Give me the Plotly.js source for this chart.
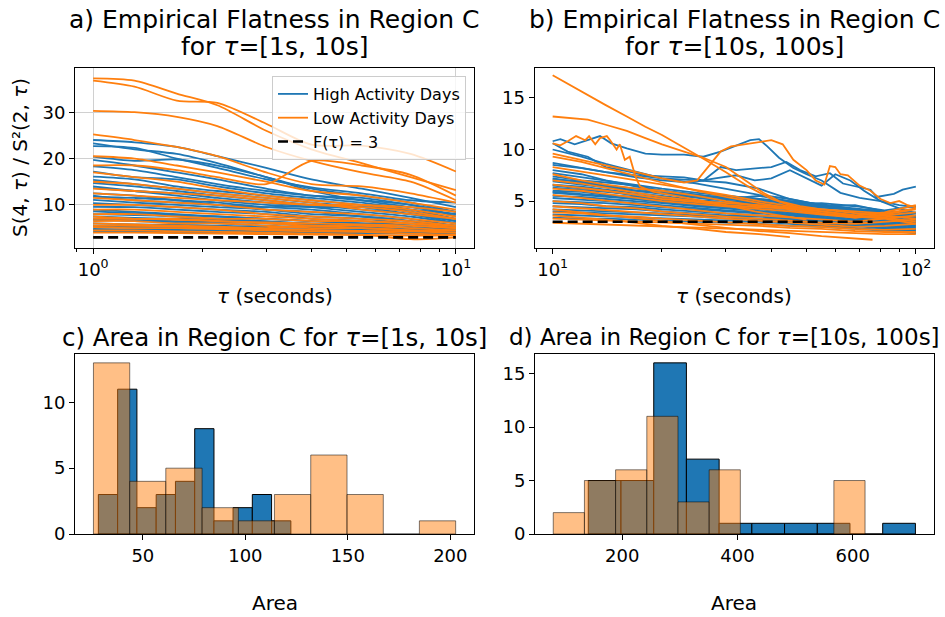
<!DOCTYPE html>
<html>
<head>
<meta charset="utf-8">
<script src="https://cdn.plot.ly/plotly-3.0.1.min.js"></script>
<style>html,body{margin:0;padding:0;background:#fff;}#chart{width:945px;height:617px;}</style>
</head>
<body>
<div id="chart"></div>
<script>
// ---------------- DATA ----------------
// Panel a: flatness vs tau in [1s, 10s]
const tauA = [1, 1.3, 1.7, 2.2, 3, 4, 5.5, 7.5, 10];
const highA = [
  [24.0, 23.5, 22.5, 20.5, 18.0, 15.5, 13.5, 11.5, 9.5],
  [23.3, 22.0, 21.0, 19.0, 16.0, 13.5, 12.0, 10.5, 8.5],
  [22.7, 22.3, 20.0, 18.0, 15.5, 13.8, 12.5, 11.0, 10.5],
  [20.4, 19.5, 19.8, 18.5, 16.0, 13.0, 11.0, 9.5, 8.0],
  [19.7, 18.5, 17.0, 15.5, 13.5, 12.0, 11.5, 10.0, 8.5],
  [18.3, 17.5, 16.0, 14.5, 13.0, 12.0, 11.0, 10.0, 7.5],
  [17.2, 16.0, 15.5, 14.0, 12.5, 11.5, 10.5, 9.0, 7.0],
  [16.1, 15.5, 14.0, 13.0, 12.0, 11.0, 10.0, 8.5, 6.5],
  [15.4, 14.5, 13.5, 12.5, 11.5, 10.5, 9.5, 8.0, 6.5],
  [14.7, 14.0, 13.0, 12.0, 11.0, 10.0, 9.0, 8.0, 6.0],
  [14.0, 13.0, 12.0, 11.0, 10.0, 9.5, 9.5, 9.0, 8.0],
  [13.6, 13.0, 12.5, 11.5, 10.5, 9.5, 8.5, 7.5, 6.0],
  [12.5, 12.0, 11.0, 10.5, 9.5, 9.0, 8.0, 7.0, 5.5],
  [12.0, 11.0, 10.5, 10.0, 9.5, 9.8, 9.5, 8.5, 7.0],
  [11.8, 11.5, 11.0, 10.0, 9.0, 8.5, 7.5, 6.5, 5.5],
  [11.1, 10.5, 10.0, 9.5, 9.0, 8.0, 7.5, 6.5, 5.0],
  [10.4, 10.0, 9.5, 9.0, 8.5, 7.5, 7.0, 6.0, 5.0],
  [9.6, 9.5, 9.0, 8.5, 8.0, 7.0, 6.5, 5.5, 5.0],
  [9.0, 8.5, 8.0, 7.5, 7.0, 6.5, 6.0, 5.5, 4.5],
  [8.6, 8.2, 7.8, 7.5, 7.0, 6.5, 6.0, 5.5, 5.0],
  [8.0, 7.8, 7.5, 7.0, 6.5, 6.0, 5.5, 5.0, 4.5],
  [7.5, 7.2, 7.0, 6.8, 6.3, 5.8, 5.5, 5.0, 4.5],
  [7.0, 6.8, 6.5, 6.3, 6.0, 5.5, 5.2, 4.8, 4.3],
  [6.8, 6.5, 6.3, 6.0, 5.5, 5.2, 5.0, 4.6, 4.2],
  [6.0, 5.8, 5.7, 5.5, 5.2, 5.0, 4.7, 4.5, 4.2],
  [5.5, 5.4, 5.2, 5.0, 4.8, 4.6, 4.5, 4.3, 4.0],
  [5.3, 5.2, 5.0, 4.8, 4.7, 4.5, 4.3, 4.2, 4.0],
  [4.8, 4.7, 4.6, 4.5, 4.4, 4.3, 4.2, 4.1, 3.9],
  [4.6, 4.5, 4.4, 4.3, 4.2, 4.1, 4.0, 3.9, 3.8],
  [4.2, 4.2, 4.1, 4.0, 4.0, 3.9, 3.9, 3.8, 3.7]
];
const lowA = [
  [37.3, 36.8, 34.0, 31.5, 26.0, 22.0, 19.0, 16.0, 13.2],
  [36.8, 35.5, 32.5, 32.0, 27.5, 23.0, 22.8, 21.0, 17.2],
  [30.3, 30.0, 29.0, 27.0, 22.5, 19.5, 17.0, 15.0, 11.0],
  [25.2, 24.0, 22.5, 20.5, 17.0, 14.5, 14.0, 12.5, 10.5],
  [20.5, 20.0, 18.5, 17.0, 15.0, 13.0, 12.0, 10.5, 9.0],
  [18.5, 18.5, 17.5, 16.0, 14.5, 19.5, 18.5, 16.5, 12.0],
  [17.0, 16.0, 15.0, 13.5, 12.0, 11.0, 10.0, 9.0, 7.5],
  [15.0, 14.5, 13.5, 12.5, 11.5, 10.5, 9.0, 8.0, 7.0],
  [13.5, 13.0, 12.5, 12.0, 11.0, 10.0, 10.0, 9.5, 8.5],
  [12.5, 12.0, 11.5, 11.0, 10.5, 10.0, 9.5, 8.5, 7.0],
  [11.5, 11.0, 10.5, 10.0, 9.0, 8.5, 8.0, 7.0, 6.0],
  [10.0, 10.0, 9.5, 9.0, 8.0, 7.5, 7.0, 6.5, 5.5],
  [9.0, 9.0, 8.5, 8.0, 7.5, 7.0, 6.5, 6.0, 5.5],
  [8.0, 8.0, 7.5, 7.0, 7.0, 6.5, 6.5, 6.0, 5.0],
  [7.5, 7.0, 7.0, 6.5, 6.0, 5.5, 5.5, 5.0, 4.5],
  [7.0, 7.0, 6.8, 6.5, 6.2, 6.0, 5.8, 5.5, 5.0],
  [6.5, 6.5, 6.0, 6.0, 5.5, 5.0, 5.0, 4.5, 4.5],
  [6.0, 5.8, 5.5, 5.3, 5.0, 5.5, 5.0, 4.5, 4.0],
  [5.5, 5.5, 5.3, 5.0, 4.8, 4.6, 4.4, 4.3, 4.0],
  [5.2, 5.0, 5.0, 4.8, 4.5, 4.3, 4.2, 3.8, 3.5],
  [4.5, 4.5, 4.3, 4.2, 4.0, 3.8, 3.6, 2.6, 3.0],
  [4.0, 4.0, 3.9, 3.8, 3.7, 3.6, 3.5, 3.4, 3.4]
];

// Panel b: flatness vs tau in [10s, 100s]
const tauB = [10, 12, 14, 17, 20, 25, 30, 37, 45, 55, 68, 82, 100];
const highB = [
  [10.0, 9.3, 8.6, 7.8, 7.2, 6.7, 6.2, 5.6, 5.2, 4.6, 4.1, 3.8, 3.4],
  [8.7, 8.2, 7.8, 7.5, 7.2, 7.0, 6.8, 6.2, 5.2, 4.6, 4.0, 3.8, 3.2],
  [8.0, 7.6, 7.0, 6.4, 6.0, 5.6, 5.3, 5.0, 4.9, 4.6, 4.3, 4.0, 3.6],
  [7.7, 7.3, 7.0, 6.6, 6.2, 5.8, 5.5, 5.2, 5.0, 4.7, 4.2, 3.9, 3.5],
  [7.4, 7.0, 6.8, 6.5, 6.0, 5.6, 5.2, 4.9, 4.6, 4.4, 4.1, 3.8, 3.4],
  [7.2, 6.8, 6.4, 6.0, 5.8, 5.4, 5.5, 5.2, 4.7, 4.8, 4.5, 4.1, 4.5],
  [7.1, 6.9, 6.5, 6.2, 5.8, 5.5, 5.0, 4.8, 4.5, 4.2, 3.9, 3.6, 3.3],
  [6.9, 6.6, 6.3, 6.0, 5.7, 5.3, 5.0, 4.7, 4.5, 4.1, 3.7, 3.5, 3.1],
  [6.6, 6.4, 6.1, 5.8, 5.5, 5.1, 4.8, 4.6, 4.3, 4.0, 3.6, 3.3, 3.0],
  [6.5, 6.2, 6.0, 5.5, 5.2, 5.0, 5.2, 5.5, 5.0, 4.5, 4.6, 4.0, 3.8],
  [6.3, 6.1, 5.9, 5.6, 5.3, 5.0, 4.7, 4.4, 4.2, 3.9, 3.5, 3.2, 2.9],
  [6.0, 5.9, 5.6, 5.4, 5.1, 4.8, 4.5, 4.3, 4.0, 3.7, 3.4, 3.1, 2.8],
  [5.9, 5.7, 5.5, 5.2, 5.0, 4.8, 4.9, 5.1, 4.8, 4.4, 4.2, 4.0, 3.9],
  [5.8, 5.6, 5.4, 5.2, 4.9, 4.6, 4.4, 4.2, 3.9, 3.6, 3.3, 3.0, 2.7],
  [5.5, 5.4, 5.2, 5.0, 4.8, 4.5, 4.3, 4.0, 3.8, 3.5, 3.2, 2.9, 2.6],
  [5.3, 5.1, 5.0, 4.8, 4.6, 4.3, 4.1, 3.9, 3.7, 3.4, 3.1, 2.8, 2.5],
  [5.0, 4.9, 4.8, 4.6, 4.4, 4.2, 4.0, 3.8, 3.6, 3.3, 3.0, 2.7, 2.4],
  [4.8, 4.7, 4.5, 4.4, 4.2, 4.0, 3.8, 3.6, 3.4, 3.2, 2.9, 2.6, 2.3],
  [4.5, 4.4, 4.3, 4.2, 4.0, 3.8, 3.6, 3.5, 3.3, 3.1, 2.8, 2.5, 2.2],
  [4.2, 4.1, 4.0, 3.9, 3.8, 3.6, 3.5, 3.3, 3.2, 3.0, 2.7, 2.4, 2.1],
  [4.0, 3.9, 3.8, 3.7, 3.6, 3.5, 3.3, 3.2, 3.0, 2.8, 2.6, 2.3, 2.0],
  [3.7, 3.6, 3.5, 3.4, 3.3, 3.2, 3.1, 3.0, 2.8, 2.6, 2.4, 2.2, 1.9],
  [3.4, 3.3, 3.3, 3.2, 3.1, 3.0, 2.9, 2.8, 2.6, 2.5, 2.3, 2.1, 1.9]
];
const highBWavyTau1 = [10, 10.5, 11.5, 12.5, 13.5, 14.5, 16, 18, 20, 23, 26, 29, 32, 35, 37, 39, 42, 46, 50, 55, 62, 70, 80, 90, 100];
const highBWavy1    = [10.8, 11.0, 10.5, 10.9, 11.3, 10.6, 10.1, 9.6, 9.5, 9.5, 9.3, 9.8, 10.4, 10.9, 11.0, 10.3, 9.2, 8.2, 7.6, 7.0, 5.8, 5.3, 5.0, 4.6, 4.4];
const highBWavyTau2 = [10, 11, 12.5, 14, 16, 18, 20, 23, 26, 29, 32, 35, 40, 44, 48, 53, 58, 63, 69, 75, 78, 87, 92, 100];
const highBWavy2    = [10.6, 9.8, 9.3, 8.3, 7.9, 7.5, 7.4, 7.3, 7.0, 8.3, 8.0, 8.1, 8.3, 8.8, 8.0, 7.4, 7.7, 6.7, 6.4, 6.1, 5.4, 5.7, 6.1, 6.4];
const highBWavyTau3 = [10, 12, 14, 17, 20, 24, 28, 32, 36, 40, 45, 50, 55, 60, 66, 72, 80, 90, 100];
const highBWavy3    = [8.5, 8.2, 7.8, 7.3, 7.0, 6.8, 7.2, 7.5, 7.0, 7.2, 8.0, 7.2, 6.5, 7.6, 7.0, 6.0, 5.0, 4.3, 3.8];

const lowB = [
  [9.3, 8.8, 8.2, 7.4, 6.8, 6.0, 5.4, 4.8, 4.3, 3.8, 3.4, 3.6, 3.9],
  [8.3, 7.9, 7.5, 7.0, 6.6, 6.0, 5.6, 5.0, 4.5, 4.0, 3.6, 3.4, 3.0],
  [7.6, 7.0, 6.6, 6.2, 6.0, 5.5, 5.0, 4.5, 4.2, 3.8, 3.5, 3.3, 2.8],
  [7.0, 6.7, 6.3, 5.8, 5.4, 5.0, 4.8, 4.6, 4.4, 4.2, 4.0, 3.8, 4.3],
  [6.6, 6.3, 6.0, 5.6, 5.2, 4.9, 4.6, 4.4, 4.3, 4.0, 3.6, 3.9, 4.6],
  [6.2, 6.0, 5.7, 5.3, 5.0, 4.7, 4.5, 4.2, 4.0, 3.7, 3.4, 3.7, 4.2],
  [5.6, 5.3, 5.0, 4.7, 4.4, 4.1, 3.8, 3.6, 3.4, 3.2, 3.0, 3.3, 3.6],
  [5.0, 4.8, 4.5, 4.3, 4.0, 3.7, 3.5, 3.3, 3.1, 2.9, 2.8, 3.0, 3.2],
  [4.5, 4.3, 4.1, 3.9, 3.7, 3.5, 3.3, 3.1, 2.9, 2.7, 2.5, 2.6, 2.8],
  [3.9, 3.8, 3.6, 3.5, 3.3, 3.1, 3.0, 2.8, 2.6, 2.5, 2.3, 2.2, 2.3],
  [3.3, 3.2, 3.1, 3.0, 2.9, 2.8, 2.7, 2.6, 2.4, 2.3, 2.1, 2.0, 2.0],
  [2.9, 2.8, 2.7, 2.6, 2.5, 2.4, 2.3, 2.2, 2.1, 2.0, 1.9, 1.8, 1.8]
];
const lowBWavyTau1 = [10, 10.7, 12, 14, 16, 18, 20, 23, 26, 30, 35, 40, 45, 50];
const lowBWavy1    = [17.2, 16.6, 15.6, 14.3, 13.2, 12.2, 11.4, 10.2, 9.1, 7.8, 6.3, 5.2, 4.6, 4.2];
const lowBWavyTau2 = [10, 11, 12.5, 14, 16, 18, 20, 23, 26, 30, 34, 38, 42, 48, 55, 65, 80, 100];
const lowBWavy2    = [13.2, 13.1, 12.9, 12.4, 11.8, 11.1, 10.5, 9.8, 9.2, 8.3, 7.0, 5.8, 5.0, 4.5, 4.2, 3.9, 3.6, 3.3];
const lowBWavyTau3 = [10, 10.5, 11, 11.6, 12.3, 12.6, 13.1, 13.5, 14.1, 14.4, 15, 15.3, 15.8, 16.3, 16.9, 17.4, 19, 22, 26, 30, 36, 42, 50];
const lowBWavy3    = [10.6, 10.4, 10.8, 11.3, 10.9, 11.3, 10.5, 11.1, 11.3, 10.9, 10.0, 10.5, 9.0, 9.3, 7.4, 6.4, 5.9, 5.5, 5.0, 4.6, 4.0, 3.6, 3.2];
const lowBWavyTau4 = [10, 12, 14, 17, 20, 23, 25, 27, 29, 31, 34, 37, 40, 43, 46, 50, 53, 56, 58, 60, 62, 65, 70, 75, 80, 85, 90, 95, 100];
const lowBWavy4    = [9.6, 9.0, 8.5, 7.8, 7.2, 6.8, 7.0, 8.5, 9.8, 10.3, 10.5, 10.7, 10.9, 10.5, 9.0, 8.0, 7.0, 6.6, 8.4, 8.3, 7.6, 7.5, 6.5, 6.0, 5.2, 4.8, 5.0, 4.6, 4.4];
const lowBWavyTau5 = [10, 12, 14, 17, 20, 25, 30, 37, 45];
const lowBWavy5    = [3.6, 3.4, 3.2, 2.9, 2.6, 2.3, 2.0, 1.8, 1.5];
const lowBWavyTau6 = [10, 12, 14, 17, 20, 25, 30, 37, 45, 55, 65, 76];
const lowBWavy6    = [4.2, 3.9, 3.6, 3.3, 3.0, 2.7, 2.4, 2.1, 1.9, 1.6, 1.4, 1.25];

// Reference level F(tau) = 3
const fLevel = 3;
const fTauA = [1, 10];
const fTauB = [10, 76];

// Panel c histogram (Area, tau in [1s, 10s])
const edgesHighC  = [28.3, 37.7, 47.1, 56.5, 65.9, 75.3, 84.7, 94.0, 103.4, 112.8, 122.2];
const countsHighC = [3, 11, 2, 3, 4, 8, 1, 2, 3, 1];
const edgesLowC   = [25.9, 43.6, 61.2, 78.9, 96.6, 114.2, 131.9, 149.6, 167.3, 184.9, 202.6];
const countsLowC  = [13, 4, 5, 2, 1, 3, 6, 3, 0, 1];

// Panel d histogram (Area, tau in [10s, 100s])
const edgesHighD  = [141.0, 197.8, 254.6, 311.3, 368.1, 424.9, 481.7, 538.5, 595.2, 652.0, 708.8];
const countsHighD = [5, 5, 16, 7, 1, 1, 1, 1, 0, 1];
const edgesLowD   = [80.2, 134.3, 188.4, 242.6, 296.7, 350.8, 404.9, 459.0, 513.2, 567.3, 621.4];
const countsLowD  = [2, 5, 6, 11, 3, 6, 0, 0, 0, 5];

// ---------------- BUILD ----------------
const BLUE = '#1f77b4', ORANGE = '#ff7f0e';
const FONT = 'DejaVu Sans, Verdana, sans-serif';
const traces = [];

function addLine(x, y, color, xa, ya, shape, legend) {
  const t = {type: 'scatter', mode: 'lines', x: x, y: y, xaxis: xa, yaxis: ya,
    line: {color: color, width: 1.8, shape: shape, smoothing: 0.8},
    showlegend: false, hoverinfo: 'skip', connectgaps: false};
  if (legend) { t.showlegend = true; t.name = legend.name; t.legendgroup = legend.group; t.legendrank = legend.rank; }
  traces.push(t);
}

// Panel a
highA.forEach((row, i) => addLine(tauA, row, BLUE, 'x', 'y', 'spline',
  i === 0 ? {name: 'High Activity Days', group: 'g1', rank: 1} : null));
lowA.forEach((row, i) => addLine(tauA, row, ORANGE, 'x', 'y', 'spline',
  i === 0 ? {name: 'Low Activity Days', group: 'g2', rank: 2} : null));

// Panel b
highB.forEach(row => addLine(tauB, row, BLUE, 'x2', 'y2', 'linear'));
addLine(highBWavyTau1, highBWavy1, BLUE, 'x2', 'y2', 'linear');
addLine(highBWavyTau2, highBWavy2, BLUE, 'x2', 'y2', 'linear');
addLine(highBWavyTau3, highBWavy3, BLUE, 'x2', 'y2', 'linear');
lowB.forEach(row => addLine(tauB, row, ORANGE, 'x2', 'y2', 'linear'));
addLine(lowBWavyTau1, lowBWavy1, ORANGE, 'x2', 'y2', 'linear');
addLine(lowBWavyTau2, lowBWavy2, ORANGE, 'x2', 'y2', 'linear');
addLine(lowBWavyTau3, lowBWavy3, ORANGE, 'x2', 'y2', 'linear');
addLine(lowBWavyTau4, lowBWavy4, ORANGE, 'x2', 'y2', 'linear');
addLine(lowBWavyTau5, lowBWavy5, ORANGE, 'x2', 'y2', 'linear');
addLine(lowBWavyTau6, lowBWavy6, ORANGE, 'x2', 'y2', 'linear');

// dashed reference lines
traces.push({type: 'scatter', mode: 'lines', x: fTauA, y: fTauA.map(() => fLevel), xaxis: 'x', yaxis: 'y',
  line: {color: 'black', width: 2.6, dash: '10px,5px'}, name: 'F(τ) = 3', legendgroup: 'g3', legendrank: 3,
  showlegend: true, hoverinfo: 'skip'});
traces.push({type: 'scatter', mode: 'lines', x: fTauB, y: fTauB.map(() => fLevel), xaxis: 'x2', yaxis: 'y2',
  line: {color: 'black', width: 2.6, dash: '10px,5px'}, showlegend: false, hoverinfo: 'skip'});

// Histograms
function addHist(edges, counts, xa, ya, fill, edge) {
  const centers = counts.map((c, i) => (edges[i] + edges[i + 1]) / 2);
  const widths = counts.map((c, i) => edges[i + 1] - edges[i]);
  traces.push({type: 'bar', x: centers, y: counts, width: widths, xaxis: xa, yaxis: ya,
    marker: {color: fill, line: {color: edge, width: 1}}, showlegend: false, hoverinfo: 'skip'});
}
addHist(edgesHighC, countsHighC, 'x3', 'y3', BLUE, 'black');
addHist(edgesLowC, countsLowC, 'x3', 'y3', 'rgba(255,127,14,0.5)', 'rgba(0,0,0,0.5)');
addHist(edgesHighD, countsHighD, 'x4', 'y4', BLUE, 'black');
addHist(edgesLowD, countsLowD, 'x4', 'y4', 'rgba(255,127,14,0.5)', 'rgba(0,0,0,0.5)');

// ---------------- LAYOUT ----------------
const W = 945, H = 617;
const px = v => v / W;
const py = v => 1 - v / H;

const baseAxis = {
  showline: true, linecolor: 'black', linewidth: 1, mirror: true,
  ticks: 'outside', ticklen: 5, tickwidth: 1, tickcolor: 'black',
  tickfont: {family: FONT, size: 18, color: 'black'},
  showgrid: false, zeroline: false, fixedrange: true
};
const minorLog = vals => ({tickmode: 'array', tickvals: vals, ticks: 'outside', ticklen: 3, tickwidth: 1, tickcolor: 'black', showgrid: false});

const layout = {
  width: W, height: H,
  margin: {l: 0, r: 0, t: 0, b: 0},
  paper_bgcolor: 'white', plot_bgcolor: 'white',
  font: {family: FONT, color: 'black'},
  barmode: 'overlay', bargap: 0,
  xaxis: Object.assign({}, baseAxis, {domain: [px(75), px(474)], anchor: 'y', type: 'log', range: [-0.05, 1.05],
    tickmode: 'array', tickvals: [1, 10], ticktext: ['10<sup>0</sup>', '10<sup>1</sup>'],
    showgrid: true, gridcolor: '#d0d0d0', gridwidth: 1,
    minor: minorLog([0.9, 2, 3, 4, 5, 6, 7, 8, 9])}),
  yaxis: Object.assign({}, baseAxis, {domain: [py(248), py(67.5)], anchor: 'x', range: [0.7, 39.65],
    tickmode: 'array', tickvals: [10, 20, 30], showgrid: true, gridcolor: '#d0d0d0', gridwidth: 1}),
  xaxis2: Object.assign({}, baseAxis, {domain: [px(534.5), px(934)], anchor: 'y2', type: 'log', range: [0.95, 2.05],
    tickmode: 'array', tickvals: [10, 100], ticktext: ['10<sup>1</sup>', '10<sup>2</sup>'],
    minor: minorLog([9, 20, 30, 40, 50, 60, 70, 80, 90])}),
  yaxis2: Object.assign({}, baseAxis, {domain: [py(248), py(67.5)], anchor: 'x2', range: [0.45, 17.95],
    tickmode: 'array', tickvals: [5, 10, 15]}),
  xaxis3: Object.assign({}, baseAxis, {domain: [px(75), px(473.5)], anchor: 'y3', range: [16.9, 211.3],
    tickmode: 'array', tickvals: [50, 100, 150, 200]}),
  yaxis3: Object.assign({}, baseAxis, {domain: [py(534), py(354.3)], anchor: 'x3', range: [0, 13.65],
    tickmode: 'array', tickvals: [0, 5, 10]}),
  xaxis4: Object.assign({}, baseAxis, {domain: [px(535), px(933.5)], anchor: 'y4', range: [48.5, 740.2],
    tickmode: 'array', tickvals: [200, 400, 600]}),
  yaxis4: Object.assign({}, baseAxis, {domain: [py(534), py(354.3)], anchor: 'x4', range: [0, 16.8],
    tickmode: 'array', tickvals: [0, 5, 10, 15]}),
  legend: {x: px(466), xanchor: 'right', y: py(76), yanchor: 'top',
    bgcolor: 'rgba(255,255,255,0.8)', bordercolor: '#cccccc', borderwidth: 1,
    font: {family: FONT, size: 16, color: 'black'}, traceorder: 'grouped', tracegroupgap: 0},
  annotations: []
};

function ann(text, x, y, size, extra) {
  layout.annotations.push(Object.assign({text: text, x: px(x), y: py(y), xref: 'paper', yref: 'paper',
    xanchor: 'center', yanchor: 'middle', showarrow: false,
    font: {family: FONT, size: size, color: 'black'}}, extra || {}));
}
ann('a) Empirical Flatness in Region C', 274.5, 19, 25);
ann('for <i>τ</i>=[1s, 10s]', 274.5, 47, 25);
ann('b) Empirical Flatness in Region C', 734, 19, 25);
ann('for <i>τ</i>=[10s, 100s]', 734, 47, 25);
ann('c) Area in Region C for <i>τ</i>=[1s, 10s]', 274.5, 337, 24.5);
ann('d) Area in Region C for <i>τ</i>=[10s, 100s]', 942, 337, 23, {xanchor: 'right'});
ann('<i>τ</i> (seconds)', 274.5, 296, 20);
ann('<i>τ</i> (seconds)', 734, 296, 20);
ann('Area', 274.5, 603, 20);
ann('Area', 734, 603, 20);
ann('S(4, <i>τ</i>) / S²(2, <i>τ</i>)', 20, 158, 20, {textangle: -90});

Plotly.newPlot('chart', traces, layout, {staticPlot: true, displayModeBar: false});
</script>
</body>
</html>
